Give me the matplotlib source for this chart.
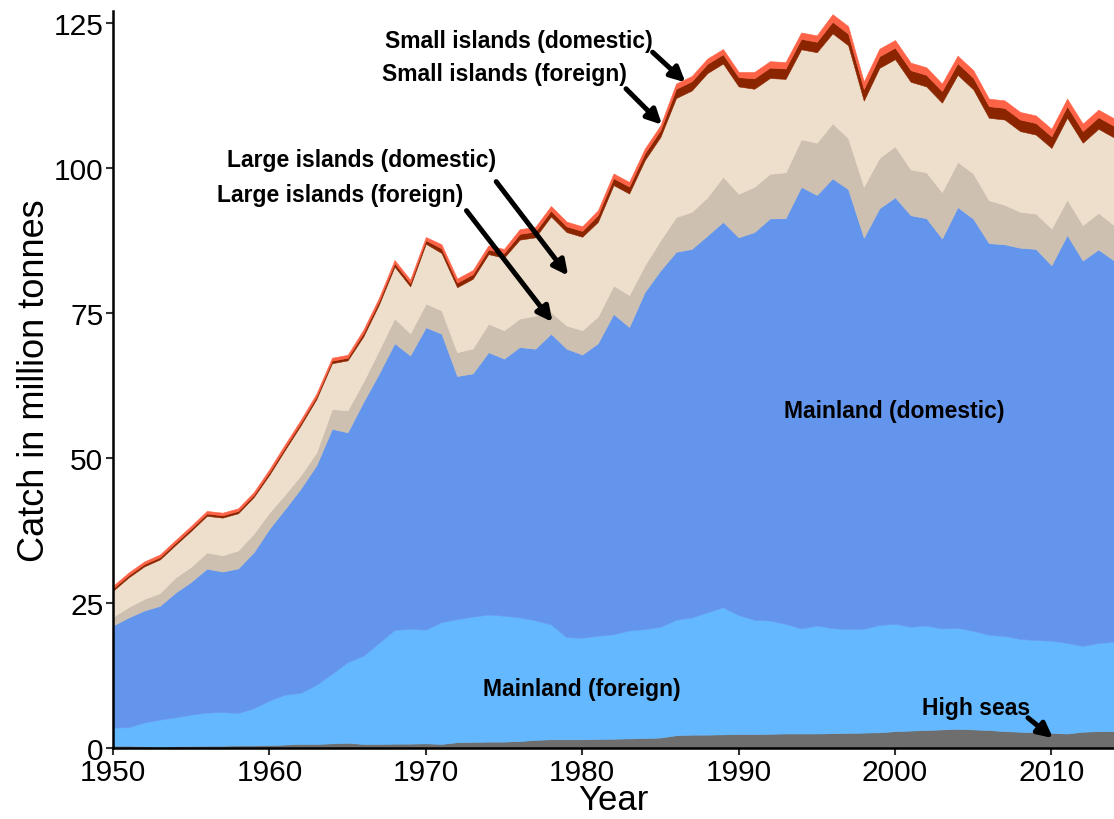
import matplotlib
matplotlib.use("Agg")
import matplotlib.pyplot as plt
import numpy as np

plt.rcParams['font.family'] = ['Liberation Sans', 'DejaVu Sans']

years = list(range(1950, 2015))

high_seas = [0.4, 0.4, 0.3, 0.2, 0.3, 0.35, 0.4, 0.4, 0.45, 0.45,
             0.5, 0.6, 0.7, 0.7, 0.8, 0.9, 0.7, 0.7, 0.75, 0.75,
             0.8, 0.7, 1.0, 1.05, 1.1, 1.1, 1.2, 1.4, 1.5, 1.5,
             1.5, 1.55, 1.6, 1.65, 1.7, 1.8, 2.2, 2.3, 2.3, 2.35,
             2.4, 2.4, 2.45, 2.5, 2.5, 2.5, 2.55, 2.6, 2.65, 2.7,
             2.9, 3.0, 3.1, 3.2, 3.3, 3.2, 3.1, 2.9, 2.8, 2.7,
             2.6, 2.5, 2.8, 2.9, 2.9]

mainland_foreign = [3.1, 3.2, 4.1, 4.7, 5.0, 5.4, 5.7, 5.8, 5.6, 6.4,
                    7.7, 8.6, 8.8, 10.2, 12.0, 13.9, 15.2, 17.4, 19.6, 19.8,
                    19.6, 21.0, 21.2, 21.6, 21.9, 21.7, 21.3, 20.6, 19.8, 17.6,
                    17.5, 17.8, 18.0, 18.6, 18.8, 19.1, 19.9, 20.2, 21.1, 21.9,
                    20.5, 19.7, 19.5, 18.9, 18.1, 18.6, 18.1, 17.9, 17.9, 18.5,
                    18.5, 17.9, 18.0, 17.4, 17.4, 17.0, 16.4, 16.4, 16.0, 15.9,
                    15.9, 15.6, 14.8, 15.2, 15.4]

mainland_domestic = [17.6, 18.9, 19.3, 19.6, 21.5, 22.9, 24.8, 24.2, 24.9, 26.9,
                     29.6, 32.0, 35.2, 37.8, 42.2, 39.6, 43.7, 46.4, 49.4, 47.1,
                     52.1, 49.7, 41.9, 41.9, 45.2, 44.3, 46.6, 46.8, 50.1, 49.7,
                     48.8, 50.4, 55.2, 52.3, 58.1, 61.4, 63.4, 63.5, 64.9, 66.4,
                     65.1, 66.8, 69.3, 69.9, 76.1, 74.2, 77.5, 75.8, 67.4, 71.8,
                     73.5, 70.9, 70.2, 67.2, 72.5, 71.0, 67.5, 67.5, 67.4, 67.4,
                     64.7, 70.3, 66.4, 67.8, 65.7]

large_islands_foreign = [1.5, 1.8, 2.0, 2.2, 2.6, 2.6, 2.8, 2.8, 3.1, 3.2,
                         2.8, 2.5, 2.3, 2.2, 3.4, 3.8, 3.5, 4.0, 4.3, 3.8,
                         4.1, 4.0, 4.1, 4.3, 4.9, 4.9, 4.9, 5.7, 3.7, 4.0,
                         4.2, 4.6, 4.9, 5.5, 4.6, 5.2, 6.0, 6.4, 6.6, 7.8,
                         7.5, 7.8, 7.7, 7.9, 8.2, 9.0, 9.5, 8.8, 8.8, 8.7,
                         8.8, 7.9, 7.9, 8.0, 7.8, 7.8, 7.4, 6.8, 6.2, 6.1,
                         6.3, 6.1, 6.1, 6.3, 6.1]

large_islands_domestic = [4.5, 5.1, 5.6, 5.8, 5.6, 6.2, 6.3, 6.5, 6.4, 6.3,
                          6.5, 7.7, 8.6, 9.2, 7.9, 8.6, 7.8, 7.9, 8.9, 8.1,
                          10.3, 9.9, 11.2, 12.0, 12.0, 12.5, 13.6, 13.5, 16.5, 16.1,
                          16.1, 16.3, 17.3, 17.5, 18.1, 17.8, 20.5, 20.9, 21.4, 19.5,
                          18.5, 16.9, 16.5, 16.1, 15.5, 15.6, 15.5, 16.0, 14.8, 15.5,
                          15.0, 15.1, 14.8, 15.4, 15.0, 14.5, 14.2, 14.7, 13.9, 13.6,
                          13.9, 14.1, 14.2, 14.5, 15.1]

small_islands_foreign = [0.4] * 10 + [0.45] * 6 + [0.6] * 5 + [0.8] * 5 + [1.0] * 5 + \
                        [1.2] * 5 + [1.6] * 5 + [1.8] * 5 + [2.0] * 19

small_islands_domestic = [0.45] * 10 + [0.5] * 6 + [0.55] * 5 + [0.7] * 5 + [0.8] * 5 + \
                         [0.8] * 5 + [0.9] * 5 + [1.1] * 5 + [1.3] * 19

series = [high_seas, mainland_foreign, mainland_domestic, large_islands_foreign,
          large_islands_domestic, small_islands_foreign, small_islands_domestic]
colors = ['#6E6E6E', '#63B8FF', '#6495ED', '#CDC0B0', '#EEDFCC', '#8B2500', '#FF6347']

fig = plt.figure(figsize=(11.14, 8.2), dpi=100)
ax = fig.add_axes([113 / 1114, 71 / 820, 1 - 113 / 1114, (749 - 12) / 820])

polys = ax.stackplot(years, *series, colors=colors, linewidth=0.4)
for p, c in zip(polys, colors):
    p.set_edgecolor(c)

ax.set_xlim(1950, 2014)
ax.set_ylim(0, 127)
ax.set_xticks([1950, 1960, 1970, 1980, 1990, 2000, 2010])
ax.set_yticks([0, 25, 50, 75, 100, 125])
ax.tick_params(axis='both', labelsize=21.5, length=5, width=1.5, color='#333333', pad=2)
for s in ['top', 'right']:
    ax.spines[s].set_visible(False)
for s in ['left', 'bottom']:
    ax.spines[s].set_linewidth(1.8)
    ax.spines[s].set_color('black')
ax.set_xlabel('Year', fontsize=25, labelpad=-2)
ax.set_ylabel('Catch in million tonnes', fontsize=26, labelpad=1)

tkw = dict(fontsize=16.5, fontweight='bold', ha='center', va='center')
ap = dict(arrowstyle='-|>', lw=3.6, color='black', mutation_scale=22, shrinkA=0, shrinkB=0)

# labels
ax.text(1975.95, 121.9, 'Small islands (domestic)', **tkw)
ax.text(1975.0, 116.2, 'Small islands (foreign)', **tkw)
ax.text(1965.9, 101.4, 'Large islands (domestic)', **tkw)
ax.text(1964.5, 95.3, 'Large islands (foreign)', **tkw)
ax.text(1999.94, 58.1, 'Mainland (domestic)', **tkw)
ax.text(1979.96, 10.2, 'Mainland (foreign)', **tkw)
ax.text(2005.2, 7.0, 'High seas', **tkw)

# arrows
ax.annotate('', xy=(1986.6, 114.7), xytext=(1984.5, 119.9), arrowprops=ap)
ax.annotate('', xy=(1985.1, 107.4), xytext=(1982.8, 113.6), arrowprops=ap)
ax.annotate('', xy=(1979.1, 81.4), xytext=(1974.5, 97.6), arrowprops=ap)
ax.annotate('', xy=(1978.1, 73.4), xytext=(1972.6, 92.6), arrowprops=ap)
ax.annotate('', xy=(2010.1, 1.7), xytext=(2008.5, 5.2), arrowprops=ap)

fig.savefig('out.png', dpi=100)
